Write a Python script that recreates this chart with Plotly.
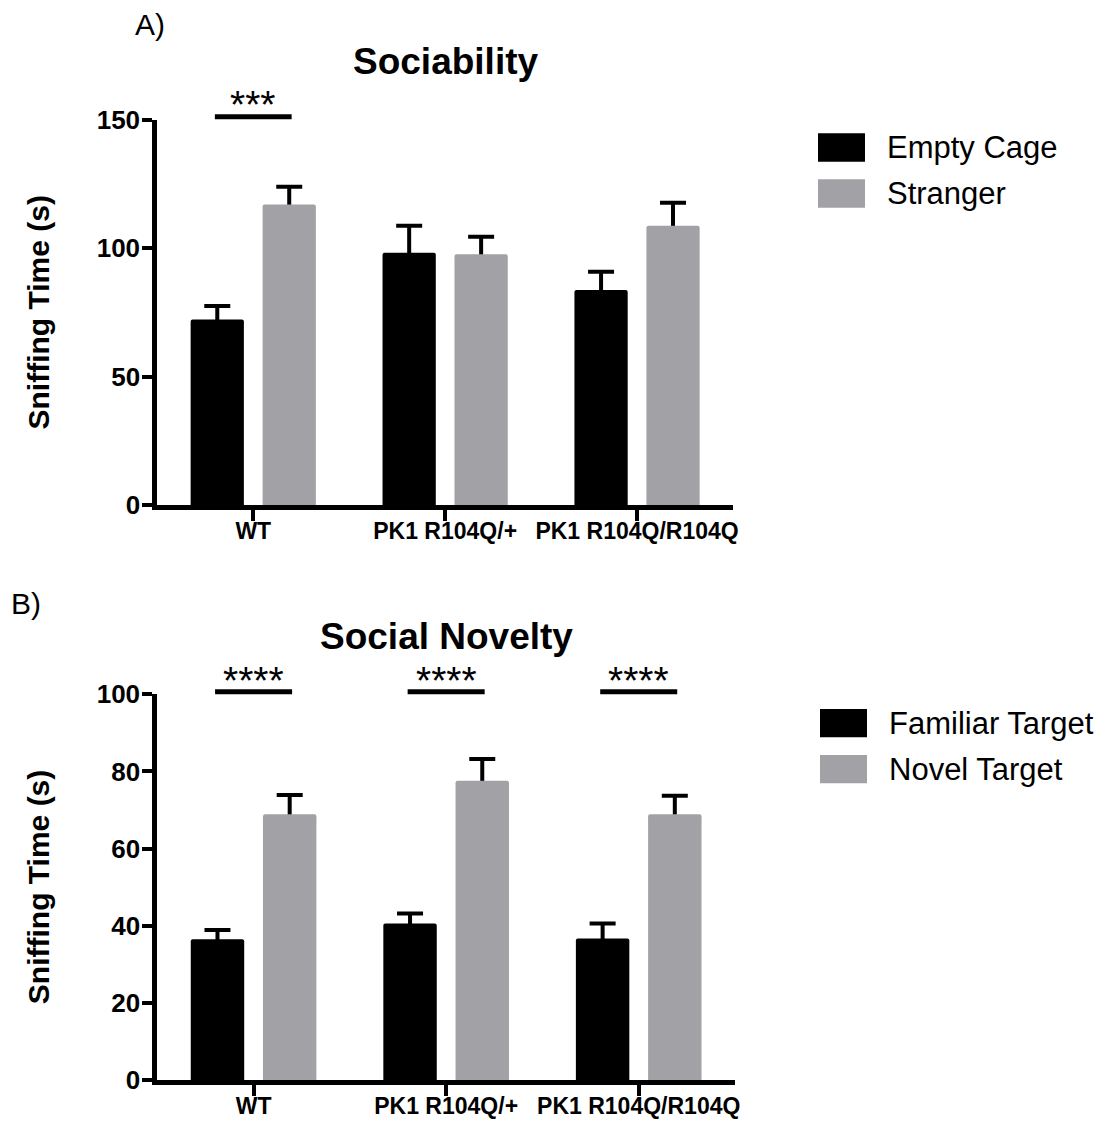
import plotly.graph_objects as go

# ---------------- data ----------------
categories = ["WT", "PK1 R104Q/+", "PK1 R104Q/R104Q"]

soc_series = ["Empty Cage", "Stranger"]
soc_empty = [72.3, 98.3, 83.8]
soc_empty_sem = [5.2, 10.5, 7.1]
soc_stranger = [117.1, 97.7, 108.8]
soc_stranger_sem = [6.9, 6.8, 9.0]
soc_sig = ["***", "", ""]
soc_yticks = [0, 50, 100, 150]

nov_series = ["Familiar Target", "Novel Target"]
nov_familiar = [36.5, 40.6, 36.7]
nov_familiar_sem = [2.4, 2.6, 3.9]
nov_novel = [68.9, 77.6, 68.9]
nov_novel_sem = [5.0, 5.6, 4.8]
nov_sig = ["****", "****", "****"]
nov_yticks = [0, 20, 40, 60, 80, 100]

# ---------------- style ----------------
BLACK = "#000000"
GRAY = "#a2a1a6"
W, H = 1107, 1122
OFF = 8  # page body margin
FONT = "Liberation Sans, Arial, sans-serif"


def xp(px):
    return (px - OFF) / W


def yp(py):
    return 1 - (py - OFF) / H


panels = [
    dict(label="A)", label_xy=(133, 24), title="Sociability", title_xy=(445, 62),
         x0=157.3, x1=733, ytop=120, ybot=505, ymax=150, yticks=soc_yticks,
         series=soc_series, vals=[soc_empty, soc_stranger],
         sems=[soc_empty_sem, soc_stranger_sem], sig=soc_sig,
         sig_line_py=116.7, star_py=105,
         legend_x=818, legend_rows=[(133.3, 161.7), (179.3, 207.7)],
         axes=("x", "y", "x3", "y3")),
    dict(label="B)", label_xy=(9, 603), title="Social Novelty", title_xy=(446, 637),
         x0=157.3, x1=735, ytop=694.3, ybot=1080, ymax=100, yticks=nov_yticks,
         series=nov_series, vals=[nov_familiar, nov_novel],
         sems=[nov_familiar_sem, nov_novel_sem], sig=nov_sig,
         sig_line_py=691.7, star_py=680,
         legend_x=820, legend_rows=[(709, 737.3), (755, 783.3)],
         axes=("x2", "y2", "x4", "y4")),
]

colors = [BLACK, GRAY]

fig = go.Figure()
annotations = []
shapes = []
layout_axes = {}

for p in panels:
    xb, yb, xo, yo = p["axes"]
    # error bars in the base subplot (drawn beneath the visible bars)
    for k in range(2):
        fig.add_trace(go.Bar(
            x=categories, y=p["vals"][k], xaxis=xb, yaxis=yb,
            offsetgroup=str(k), marker=dict(color="rgba(0,0,0,0)", line=dict(width=0)),
            error_y=dict(type="data", symmetric=False, array=p["sems"][k],
                         arrayminus=p["vals"][k], color=BLACK, thickness=4, width=13),
            showlegend=False, hoverinfo="skip"))
    # visible bars in the overlaying subplot
    for k in range(2):
        fig.add_trace(go.Bar(
            x=categories, y=p["vals"][k], xaxis=xo, yaxis=yo,
            offsetgroup=str(k), name=p["series"][k],
            marker=dict(color=colors[k], line=dict(width=0)),
            showlegend=False))

    xdom = [xp(p["x0"]), xp(p["x1"])]
    ydom = [yp(p["ybot"]), yp(p["ytop"])]
    bxn = "xaxis" + xb[1:]
    byn = "yaxis" + yb[1:]
    oxn = "xaxis" + xo[1:]
    oyn = "yaxis" + yo[1:]
    layout_axes[bxn] = dict(
        domain=xdom, anchor=yb, type="category", range=[-0.5, 2.5], automargin=False,
        showline=True, linewidth=5, linecolor=BLACK, showgrid=False, zeroline=False,
        ticks="outside", ticklen=11, tickwidth=4, tickcolor=BLACK, ticklabelstandoff=-10,
        tickfont=dict(family=FONT, size=23, color=BLACK, weight="bold"),
        fixedrange=True)
    layout_axes[byn] = dict(
        domain=ydom, anchor=xb, range=[0, p["ymax"]], tickvals=p["yticks"], automargin=False,
        showline=True, linewidth=5, linecolor=BLACK, showgrid=False, zeroline=False,
        ticks="outside", ticklen=10, tickwidth=4, tickcolor=BLACK, ticklabelstandoff=-3,
        tickfont=dict(family=FONT, size=26, color=BLACK, weight="bold"),
        fixedrange=True)
    layout_axes[oxn] = dict(overlaying=xb, anchor=yo, type="category", automargin=False,
                            range=[-0.5, 2.5], visible=False, fixedrange=True)
    layout_axes[oyn] = dict(overlaying=yb, anchor=xo, range=[0, p["ymax"]], automargin=False,
                            visible=False, fixedrange=True)

    # panel label and title
    annotations.append(dict(text=p["label"], x=xp(p["label_xy"][0]), y=yp(p["label_xy"][1]),
                            xref="paper", yref="paper", showarrow=False,
                            xanchor="left", yanchor="middle",
                            font=dict(family=FONT, size=30, color=BLACK)))
    annotations.append(dict(text=p["title"], x=xp(p["title_xy"][0]), y=yp(p["title_xy"][1]),
                            xref="paper", yref="paper", showarrow=False,
                            xanchor="center", yanchor="middle",
                            font=dict(family=FONT, size=37, color=BLACK, weight="bold")))
    # y-axis label
    annotations.append(dict(text="Sniffing Time (s)", x=xp(38),
                            y=yp((p["ytop"] + p["ybot"]) / 2),
                            xref="paper", yref="paper", showarrow=False, textangle=-90,
                            xanchor="center", yanchor="middle",
                            font=dict(family=FONT, size=30, color=BLACK, weight="bold")))

    # significance markers
    step = (p["x1"] - p["x0"]) / len(categories)
    for i, s in enumerate(p["sig"]):
        if not s:
            continue
        cx = p["x0"] + (i + 0.5) * step
        half = 0.2 * step
        shapes.append(dict(type="line", xref="paper", yref="paper",
                           x0=xp(cx - half), x1=xp(cx + half),
                           y0=yp(p["sig_line_py"]), y1=yp(p["sig_line_py"]),
                           line=dict(color=BLACK, width=5)))
        annotations.append(dict(text=s, x=xp(cx), y=yp(p["star_py"]),
                                xref="paper", yref="paper", showarrow=False,
                                xanchor="center", yanchor="middle",
                                font=dict(family=FONT, size=39, color=BLACK)))

    # legend
    for k, (r0, r1) in enumerate(p["legend_rows"]):
        shapes.append(dict(type="rect", xref="paper", yref="paper",
                           x0=xp(p["legend_x"]), x1=xp(p["legend_x"] + 47),
                           y0=yp(r1), y1=yp(r0), fillcolor=colors[k],
                           line=dict(width=0)))
        annotations.append(dict(text=p["series"][k], x=xp(p["legend_x"] + 67),
                                y=yp((r0 + r1) / 2), xref="paper", yref="paper",
                                showarrow=False, xanchor="left", yanchor="middle",
                                font=dict(family=FONT, size=31, color=BLACK)))

fig.update_layout(
    width=W, height=H,
    margin=dict(l=0, r=0, t=0, b=0, autoexpand=False),
    paper_bgcolor="white", plot_bgcolor="white",
    barmode="group", bargap=0.25, bargroupgap=0.26, barcornerradius=2,
    showlegend=False,
    annotations=annotations, shapes=shapes,
    font=dict(family=FONT, color=BLACK),
    **layout_axes,
)

fig.write_html("out.html")
